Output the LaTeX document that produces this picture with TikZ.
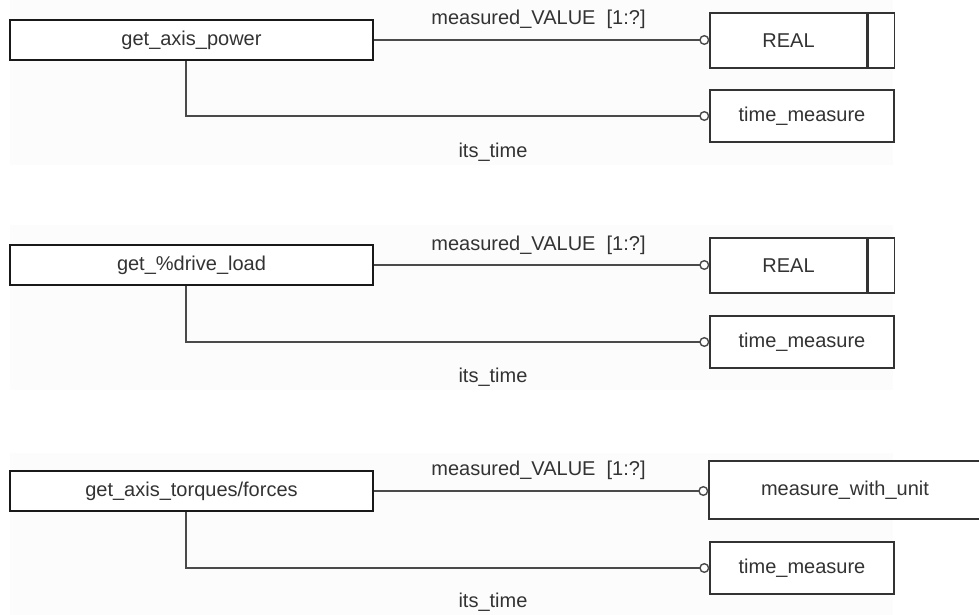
\documentclass[tikz,border=0pt]{standalone}
\usepackage{fontspec}
\setmainfont{Liberation Sans}
\usetikzlibrary{arrows.meta}
\definecolor{ink}{HTML}{333333}
\definecolor{wirecol}{HTML}{4A4A4A}
\definecolor{panel}{HTML}{FCFCFC}

\begin{document}
\begin{tikzpicture}[x=0.5pt,y=-0.5pt,
  font=\fontsize{10pt}{12pt}\selectfont,
  funcbox/.style={draw=black!90, line width=1.2pt, fill=white, text=ink,
    minimum width=181.5pt, minimum height=20pt, inner sep=0pt},
  typebox/.style={draw=ink, line width=0.7pt, fill=white, text=ink, inner sep=0pt},
  wire/.style={draw=wirecol, line width=0.7pt},
  opencirc/.style={-{Circle[open,length=5pt,width=5pt,fill=white]}},
  lbl/.style={text=ink, anchor=base, inner sep=0pt}
]
\useasboundingbox (0,0) rectangle (979,615);
\clip (0,0) rectangle (979,615);
\fill[white] (0,0) rectangle (979,615);

% faint panels behind each group
\fill[panel] (10,0)   rectangle (893,165);
\fill[panel] (10,225) rectangle (893,390);
\fill[panel] (10,453) rectangle (893,615);

% ---- get_axis_power ----
\node[funcbox] (f1) at (191.5,40) {get\_axis\_power};
\node[typebox, minimum width=78.5pt, minimum height=27.5pt] (r1) at (788.5,40.5) {REAL};
\node[typebox, minimum width=13pt, minimum height=27.5pt, anchor=west] (r1x) at (r1.east) {};
\node[typebox, minimum width=92pt, minimum height=26pt] (t1) at (802,116) {time\_measure};
\draw[wire, opencirc] (f1.east) -- (f1.east -| r1.west);
\draw[wire, opencirc] ([xshift=-2.75pt]f1.south) |- (t1.west);
\node[lbl] (m1) at (538.5,25) {measured\_VALUE\ \ [1:?]};
\node[lbl] (i1) at (493,157) {its\_time};

% ---- get_%drive_load ----
\node[funcbox] (f2) at (191.5,265) {get\_\%drive\_load};
\node[typebox, minimum width=78.5pt, minimum height=27.5pt] (r2) at (788.5,265.5) {REAL};
\node[typebox, minimum width=13pt, minimum height=27.5pt, anchor=west] (r2x) at (r2.east) {};
\node[typebox, minimum width=92pt, minimum height=26pt] (t2) at (802,342) {time\_measure};
\draw[wire, opencirc] (f2.east) -- (f2.east -| r2.west);
\draw[wire, opencirc] ([xshift=-2.75pt]f2.south) |- (t2.west);
\node[lbl] (m2) at (538.5,250) {measured\_VALUE\ \ [1:?]};
\node[lbl] (i2) at (493,382) {its\_time};

% ---- get_axis_torques/forces ----
\node[funcbox] (f3) at (191.5,491) {get\_axis\_torques/forces};
\node[typebox, minimum width=136pt, minimum height=29pt] (u3) at (845,490) {measure\_with\_unit};
\node[typebox, minimum width=92pt, minimum height=26pt] (t3) at (802,568) {time\_measure};
\draw[wire, opencirc] (f3.east) -- (f3.east -| u3.west);
\draw[wire, opencirc] ([xshift=-2.75pt]f3.south) |- (t3.west);
\node[lbl] (m3) at (538.5,475) {measured\_VALUE\ \ [1:?]};
\node[lbl] (i3) at (493,607) {its\_time};
\end{tikzpicture}
\end{document}
